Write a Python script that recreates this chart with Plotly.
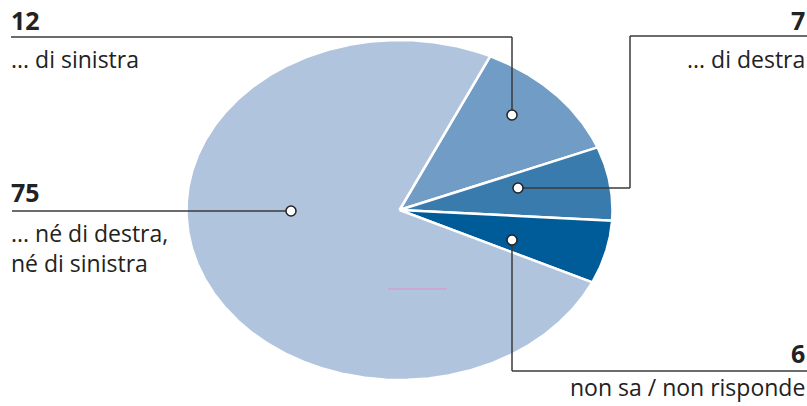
import math
import plotly.graph_objects as go

# ---- data ----
categories = ["... di sinistra", "... di destra", "non sa / non risponde", "... né di destra, né di sinistra"]
values = [12, 7, 6, 75]
value_labels = ["12", "7", "6", "75"]
colors = ["#719cc6", "#3a7bad", "#005c98", "#b0c4de"]

# ---- layout constants (pixel space) ----
W, H = 807, 406
CX, CY = 399.5, 210
RX, RY = 213, 170
START_DEG = 64.8
TXT = "#222222"
LINE = "#3a3a3a"
FONT = "Open Sans"

fig = go.Figure()

total = sum(values)
a0 = START_DEG
for cat, v, c in zip(categories, values, colors):
    sweep = v / total * 360.0
    a1 = a0 - sweep
    n = max(4, int(sweep * 2))
    xs, ys = [CX], [CY]
    for i in range(n + 1):
        t = math.radians(a0 + (a1 - a0) * i / n)
        xs.append(CX + RX * math.cos(t))
        ys.append(CY - RY * math.sin(t))
    xs.append(CX); ys.append(CY)
    fig.add_trace(go.Scatter(x=xs, y=ys, mode="lines", fill="toself", fillcolor=c,
                             line=dict(color="white", width=2.5), hoverinfo="text",
                             text=f"{cat}: {v}", showlegend=False))
    a0 = a1

shapes = []
def seg(x0, y0, x1, y1, color=LINE, w=1.5):
    shapes.append(dict(type="line", xref="x", yref="y", x0=x0, y0=y0, x1=x1, y1=y1,
                       line=dict(color=color, width=w)))

# connectors
seg(11, 37, 512, 37); seg(512, 37, 512, 115)            # 12
seg(630, 36, 807, 36); seg(630, 36, 630, 188); seg(630, 188, 518, 188)  # 7
seg(12, 211, 291, 211)                                   # 75
seg(512, 240, 512, 371); seg(512, 371, 807, 371)         # 6
# stray pink mark
seg(388, 289, 447, 289, color="#e58fc4", w=1)

dots = [(512, 115), (518, 188), (291, 211), (512, 240)]
for (x, y) in dots:
    shapes.append(dict(type="circle", xref="x", yref="y", x0=x - 5, x1=x + 5, y0=y - 5, y1=y + 5,
                       fillcolor="white", line=dict(color="#222", width=1.5)))

ann = []
def txt(x, y, s, anchor="left", bold=False, size=23, yanchor="middle"):
    ann.append(dict(x=x, y=y, xref="x", yref="y", text=(f"<b>{s}</b>" if bold else s),
                    showarrow=False, xanchor=anchor, yanchor=yanchor, borderpad=0,
                    font=dict(family=FONT, size=size, color=TXT), align=anchor))

NUM = 25
line1, line2 = categories[3].split(", ", 1)
txt(10, 20, value_labels[0], bold=True, size=NUM)
txt(10, 59, categories[0])
txt(806, 20, value_labels[1], anchor="right", bold=True, size=NUM)
txt(806, 59, categories[1], anchor="right")
txt(10, 192, value_labels[3], bold=True, size=NUM)
txt(10, 248, line1 + ",<br>" + line2)
txt(806, 353, value_labels[2], anchor="right", bold=True, size=NUM)
txt(806, 387, categories[2], anchor="right")

fig.update_layout(
    width=W, height=H, margin=dict(l=0, r=0, t=0, b=0),
    paper_bgcolor="white", plot_bgcolor="white",
    xaxis=dict(range=[0, W], visible=False, fixedrange=True),
    yaxis=dict(range=[H, 0], visible=False, fixedrange=True),
    shapes=shapes, annotations=ann, showlegend=False,
)
fig.write_html("out.html")
